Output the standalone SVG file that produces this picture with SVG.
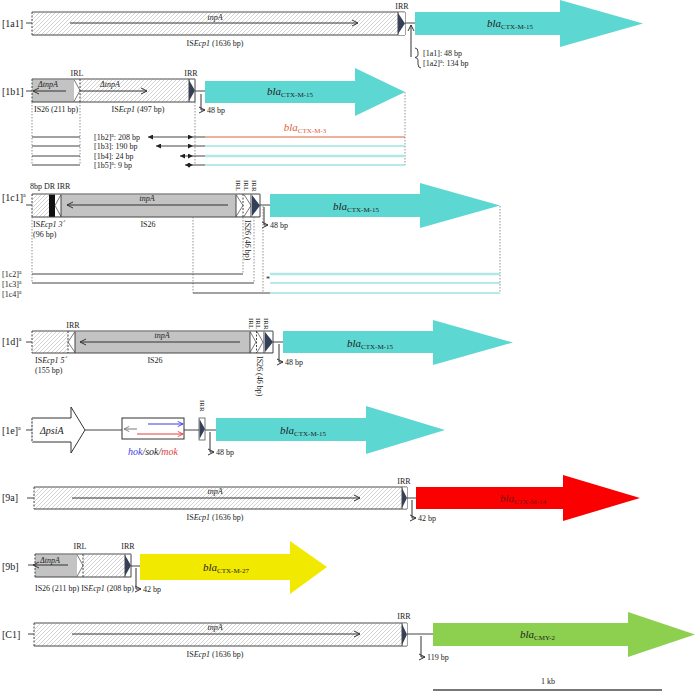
<svg xmlns="http://www.w3.org/2000/svg" width="696" height="698" viewBox="0 0 696 698">
<defs>
<pattern id="hatch" patternUnits="userSpaceOnUse" width="4" height="4">
<rect width="4" height="4" fill="#fff"/>
<path d="M-1,1 l2,-2 M0,4 l4,-4 M3,5 l2,-2" stroke="#b5b5b5" stroke-width="0.6"/>
</pattern>
<marker id="oa" viewBox="0 0 8 8" refX="7" refY="4" markerWidth="8" markerHeight="8" orient="auto" markerUnits="userSpaceOnUse"><path d="M1,1 L7,4 L1,7" fill="none" stroke="#333" stroke-width="1"/></marker>
<marker id="oab" viewBox="0 0 8 8" refX="7" refY="4" markerWidth="7" markerHeight="7" orient="auto" markerUnits="userSpaceOnUse"><path d="M1,1 L7,4 L1,7" fill="none" stroke="#3a3ae6" stroke-width="1"/></marker>
<marker id="oar" viewBox="0 0 8 8" refX="7" refY="4" markerWidth="7" markerHeight="7" orient="auto" markerUnits="userSpaceOnUse"><path d="M1,1 L7,4 L1,7" fill="none" stroke="#e63a3a" stroke-width="1"/></marker>
<marker id="oag" viewBox="0 0 8 8" refX="7" refY="4" markerWidth="7" markerHeight="7" orient="auto" markerUnits="userSpaceOnUse"><path d="M1,1 L7,4 L1,7" fill="none" stroke="#777" stroke-width="1"/></marker>
<marker id="fa" viewBox="0 0 6 6" refX="6" refY="3" markerWidth="5" markerHeight="5" orient="auto-start-reverse" markerUnits="userSpaceOnUse"><path d="M0,0 L6,3 L0,6z" fill="#222"/></marker>
</defs>
<style>
text{font-family:"Liberation Serif","Times New Roman",serif;fill:#222}
.l{font-size:10px}
.s{font-size:8px}
.xs{font-size:7px}
.i{font-style:italic}
.g{font-size:11px}
.edge{fill:none;stroke:#444;stroke-width:1}
.top{fill:none;stroke:#888;stroke-width:1.6}
.dl{fill:none;stroke:#444;stroke-width:1;stroke-dasharray:2,1.5}
.dv{fill:none;stroke:#777;stroke-width:0.8;stroke-dasharray:1.5,1.5}
.ln{fill:none;stroke:#444;stroke-width:1}
.ar{fill:none;stroke:#333;stroke-width:1}
.gr{fill:#c3c3c3}
.tri{fill:#34405a}
.chev{fill:none;stroke:#555;stroke-width:0.8}
.cy{fill:#5cd7d2}
.cyl{stroke:#6fd6d2;stroke-width:1;fill:none}
.cyt{stroke:#aee9e6;stroke-width:2.5;fill:none}
</style>

<g id="row-1a1">
<text class="l" x="2" y="27">[1a1]</text>
<rect x="32" y="12" width="373" height="23" fill="url(#hatch)"/>
<path class="edge" d="M32,35 H405 V12"/>
<path class="top" d="M32,12 H405"/>
<path class="dl" d="M32,12 V35"/>
<rect x="398" y="12.5" width="7" height="22.5" fill="#fff"/>
<polygon class="tri" points="398,13 405,23.5 398,34"/>
<path class="edge" d="M398,12 V35"/>
<line class="ar" x1="70" y1="23" x2="358" y2="23" marker-end="url(#oa)"/>
<text class="s i" x="215" y="20" text-anchor="middle">tnpA</text>
<text class="s" x="402" y="9" text-anchor="middle">IRR</text>
<text class="s" x="215" y="46" text-anchor="middle">IS<tspan class="i">Ecp1</tspan> (1636 bp)</text>
<polygon class="cy" points="415,12 560,12 560,0 643,23.5 560,47 560,35 415,35"/>
<text class="g" x="487" y="27"><tspan class="i">bla</tspan><tspan font-size="7" dy="2">CTX-M-15</tspan></text>
<path class="ln" d="M415,48 Q418,48 418,52 V55 Q418,57 415,57.5 Q418,58 418,60 V64 Q418,68 421,68"/>
<text class="s" x="423" y="56">[1a1]: 48 bp</text>
<text class="s" x="423" y="66">[1a2]<tspan font-size="5.5" dy="-3">a</tspan><tspan dy="3">: 134 bp</tspan></text>
</g>

<g id="row-1b1">
<text class="l" x="2" y="95">[1b1]</text>
<rect class="gr" x="32" y="79" width="48" height="23"/>
<rect x="80" y="79" width="115" height="23" fill="url(#hatch)"/>
<rect x="74" y="79.5" width="6" height="22" fill="#fff"/>
<polyline class="chev" points="74,79.5 80,90.5 74,101.5"/>
<rect x="189" y="79.5" width="6" height="22" fill="#fff"/>
<polygon class="tri" points="189,80 195,90.5 189,101"/>
<path class="edge" d="M32,102 H195 V79"/>
<path class="top" d="M32,79 H195"/>
<path class="dl" d="M32,79 V102 M80,79 V102"/>
<path class="edge" d="M189,79 V102"/>
<line class="ar" x1="66" y1="91" x2="33" y2="91" marker-end="url(#oa)"/>
<line class="ar" x1="80" y1="91" x2="147" y2="91" marker-end="url(#oa)"/>
<text class="s i" x="38" y="87">ΔtnpA</text>
<text class="s i" x="100" y="87">ΔtnpA</text>
<text class="s" x="77" y="76" text-anchor="middle">IRL</text>
<text class="s" x="191" y="76" text-anchor="middle">IRR</text>
<text class="s" x="34" y="112">IS26 (211 bp)</text>
<text class="s" x="138" y="112" text-anchor="middle">IS<tspan class="i">Ecp1</tspan> (497 bp)</text>
<polygon class="cy" points="205,81 355,81 355,68 405,92 355,116 355,103 205,103"/>
<text class="g" x="267" y="95"><tspan class="i">bla</tspan><tspan font-size="7" dy="2">CTX-M-15</tspan></text>
<text class="g" x="305" y="131" text-anchor="middle" style="fill:#e0603c"><tspan class="i" style="fill:#e0603c">bla</tspan><tspan font-size="7" dy="2" style="fill:#e0603c">CTX-M-3</tspan></text>
<text class="s" x="94" y="140">[1b2]<tspan font-size="5.5" dy="-3">a</tspan><tspan dy="3">: 208 bp</tspan></text>
<text class="s" x="94" y="149">[1b3]: 190 bp</text>
<text class="s" x="94" y="159">[1b4]: 24 bp</text>
<text class="s" x="94" y="168">[1b5]<tspan font-size="5.5" dy="-3">a</tspan><tspan dy="3">: 9 bp</tspan></text>
</g>

<g id="row-1c1">
<text class="l" x="2" y="201">[1c1]<tspan font-size="6" dy="-4">a</tspan></text>
<rect x="32" y="194" width="17" height="23" fill="url(#hatch)"/>
<rect x="49" y="194" width="6" height="23" fill="#111"/>
<rect class="gr" x="55" y="194" width="205" height="23"/>
<rect x="55" y="194.5" width="6" height="22" fill="#fff"/>
<polyline class="chev" points="61,194.5 55,205.5 61,216.5"/>
<rect x="236" y="194.5" width="15" height="22" fill="#fff"/>
<polyline class="chev" points="236,194.5 243,205.5 236,216.5"/>
<polyline class="chev" points="244,194.5 251,205.5 244,216.5"/>
<rect x="251" y="194.5" width="9" height="22" fill="#fff"/>
<polygon class="tri" points="252,195 260,205.5 252,216"/>
<path class="edge" d="M32,217 H260 V194 M61,194 V217 M236,194 V217 M251,194 V217"/>
<path class="top" d="M32,194 H260"/>
<path class="dl" d="M32,194 V217 M243,194 V217"/>
<line class="ar" x1="228" y1="205" x2="67" y2="205" marker-end="url(#oa)"/>
<text class="s i" x="147" y="201" text-anchor="middle">tnpA</text>
<text class="s" x="30" y="189">8bp DR IRR</text>
<text class="s" x="33" y="227">IS<tspan class="i">Ecp1 3´</tspan></text>
<text class="s" x="33" y="237">(96 bp)</text>
<text class="s" x="148" y="227" text-anchor="middle">IS26</text>
<text class="xs" transform="translate(236,180) rotate(90)">IRL</text>
<text class="xs" transform="translate(244,180) rotate(90)">IRL</text>
<text class="xs" transform="translate(252,180) rotate(90)">IRR</text>
<text class="s" transform="translate(244.5,220) rotate(90)">IS26 (46 bp)</text>
<polygon class="cy" points="270,194 420,194 420,183 500,205.5 420,228 420,217 270,217"/>
<text class="g" x="333" y="210"><tspan class="i">bla</tspan><tspan font-size="7" dy="2">CTX-M-15</tspan></text>
<text class="s" x="2" y="277">[1c2]<tspan font-size="5.5" dy="-3">a</tspan></text>
<text class="s" x="2" y="287">[1c3]<tspan font-size="5.5" dy="-3">a</tspan></text>
<text class="s" x="2" y="297">[1c4]<tspan font-size="5.5" dy="-3">a</tspan></text>
<text class="s" x="266" y="282">*</text>
</g>

<g id="row-1d">
<text class="l" x="2" y="345">[1d]<tspan font-size="6" dy="-4">a</tspan></text>
<rect x="32" y="331" width="36" height="22" fill="url(#hatch)"/>
<rect class="gr" x="68" y="331" width="205" height="22"/>
<rect x="68" y="331.5" width="7" height="21" fill="#fff"/>
<polyline class="chev" points="75,331.5 68,342 75,352.5"/>
<rect x="250" y="331.5" width="23" height="21" fill="#fff"/>
<polyline class="chev" points="250,331.5 256,342 250,352.5"/>
<polyline class="chev" points="257,331.5 263,342 257,352.5"/>
<polygon class="tri" points="265,332 273,342 265,352"/>
<path class="edge" d="M32,353 H273 V331 M75,331 V353 M250,331 V353 M264,331 V353"/>
<path class="top" d="M32,331 H273"/>
<path class="dl" d="M32,331 V353 M68,331 V353 M256.5,331 V353"/>
<line class="ar" x1="240" y1="342" x2="80" y2="342" marker-end="url(#oa)"/>
<text class="s i" x="162" y="338" text-anchor="middle">tnpA</text>
<text class="s" x="73" y="328" text-anchor="middle">IRR</text>
<text class="xs" transform="translate(248.5,318) rotate(90)">IRL</text>
<text class="xs" transform="translate(256,318) rotate(90)">IRL</text>
<text class="xs" transform="translate(264,318) rotate(90)">IRR</text>
<text class="s" transform="translate(257,356) rotate(90)">IS26 (46 bp)</text>
<text class="s" x="35" y="363">IS<tspan class="i">Ecp1 5´</tspan></text>
<text class="s" x="35" y="373">(155 bp)</text>
<text class="s" x="155" y="363" text-anchor="middle">IS26</text>
<polygon class="cy" points="283,331 433,331 433,320 513,342.5 433,365 433,353 283,353"/>
<text class="g" x="347" y="347"><tspan class="i">bla</tspan><tspan font-size="7" dy="2">CTX-M-15</tspan></text>
</g>

<g id="row-1e">
<text class="l" x="2" y="434">[1e]<tspan font-size="6" dy="-4">a</tspan></text>
<polygon points="32,418 71,418 71,407 85,430 71,453 71,442 32,442" fill="#fff" stroke="#333" stroke-width="1"/>
<path d="M32,418 V442" stroke="#fff" stroke-width="1.5"/>
<path class="dl" d="M32,418 V442"/>
<text class="l i" x="40" y="434">ΔpsiA</text>
<rect x="122" y="418" width="62" height="21" fill="#fff" stroke="#333" stroke-width="1"/>
<line x1="137" y1="429" x2="124" y2="429" stroke="#777" stroke-width="1" marker-end="url(#oag)"/>
<line x1="148" y1="424" x2="183" y2="424" stroke="#3a3ae6" stroke-width="1" marker-end="url(#oab)"/>
<line x1="137" y1="434" x2="183" y2="434" stroke="#e63a3a" stroke-width="1" marker-end="url(#oar)"/>
<text class="l i" x="153" y="455" text-anchor="middle"><tspan style="fill:#3a3ae6">hok</tspan>/sok/<tspan style="fill:#e63a3a">mok</tspan></text>
<rect x="199" y="418" width="6" height="22" fill="#fff" stroke="#555" stroke-width="0.8"/>
<polygon class="tri" points="199.5,419 205,429 199.5,439"/>
<text class="xs" transform="translate(199.5,400) rotate(90)">IRR</text>
<polygon class="cy" points="216,418 366,418 366,406 445,430 366,454 366,441 216,441"/>
<text class="g" x="280" y="434"><tspan class="i">bla</tspan><tspan font-size="7" dy="2">CTX-M-15</tspan></text>
</g>

<g id="row-9a">
<text class="l" x="2" y="501">[9a]</text>
<rect x="34" y="487" width="373" height="22" fill="url(#hatch)"/>
<path class="edge" d="M34,509 H407 V487"/>
<path class="top" d="M34,487 H407"/>
<path class="dl" d="M34,487 V509"/>
<rect x="402" y="487.5" width="5" height="21" fill="#fff"/>
<polygon class="tri" points="402,488 407,498 402,508"/>
<path class="edge" d="M402,487 V509"/>
<line class="ar" x1="72" y1="498" x2="360" y2="498" marker-end="url(#oa)"/>
<text class="s i" x="215" y="494" text-anchor="middle">tnpA</text>
<text class="s" x="404" y="484" text-anchor="middle">IRR</text>
<text class="s" x="215" y="520" text-anchor="middle">IS<tspan class="i">Ecp1</tspan> (1636 bp)</text>
<polygon points="416,487 563,487 563,475 640,498 563,521 563,509 416,509" fill="#fa0000"/>
<text class="g" x="500" y="502" style="fill:#7a1010"><tspan class="i" style="fill:#7a1010">bla</tspan><tspan font-size="7" dy="2" style="fill:#7a1010">CTX-M-14</tspan></text>
</g>

<g id="row-9b">
<text class="l" x="2" y="570">[9b]</text>
<rect class="gr" x="35" y="554" width="43" height="23"/>
<rect x="83" y="554" width="48" height="23" fill="url(#hatch)"/>
<rect x="77" y="554.5" width="6" height="22" fill="#fff"/>
<polyline class="chev" points="77,554.5 83,565.5 77,576.5"/>
<rect x="125" y="554.5" width="6" height="22" fill="#fff"/>
<polygon class="tri" points="125,555 131,565.5 125,576"/>
<path class="edge" d="M35,577 H131 V554 M125,554 V577"/>
<path class="top" d="M35,554 H131"/>
<path class="dl" d="M35,554 V577 M83,554 V577"/>
<line class="ar" x1="68" y1="565" x2="33" y2="565" marker-end="url(#oa)"/>
<text class="s i" x="40" y="563">ΔtnpA</text>
<text class="s" x="80" y="549" text-anchor="middle">IRL</text>
<text class="s" x="128" y="549" text-anchor="middle">IRR</text>
<text class="s" x="35" y="591">IS26 (211 bp) IS<tspan class="i">Ecp1</tspan> (208 bp)</text>
<polygon points="140,554 290,554 290,541 327,567 290,594 290,580 140,580" fill="#f1e900"/>
<text class="g" x="203" y="571"><tspan class="i">bla</tspan><tspan font-size="7" dy="2">CTX-M-27</tspan></text>
</g>

<g id="row-C1">
<text class="l" x="2" y="638">[C1]</text>
<rect x="34" y="623" width="373" height="23" fill="url(#hatch)"/>
<path class="edge" d="M34,646 H407 V623"/>
<path class="top" d="M34,623 H407"/>
<path class="dl" d="M34,623 V646"/>
<rect x="402" y="623.5" width="5" height="22" fill="#fff"/>
<polygon class="tri" points="402,624 407,634.5 402,645"/>
<path class="edge" d="M402,623 V646"/>
<line class="ar" x1="72" y1="634" x2="360" y2="634" marker-end="url(#oa)"/>
<text class="s i" x="215" y="630" text-anchor="middle">tnpA</text>
<text class="s" x="404" y="619" text-anchor="middle">IRR</text>
<text class="s" x="215" y="657" text-anchor="middle">IS<tspan class="i">Ecp1</tspan> (1636 bp)</text>
<polygon points="433,623 628,623 628,612 695,634.5 628,657 628,646 433,646" fill="#8dd04f"/>
<text class="g" x="520" y="638"><tspan class="i">bla</tspan><tspan font-size="7" dy="2">CMY-2</tspan></text>
</g>

<g id="scale">
<line x1="433" y1="690" x2="662" y2="690" stroke="#777" stroke-width="2"/>
<text class="s" x="548" y="684" text-anchor="middle">1 kb</text>
</g>

<g id="connectors">
<!-- left stubs -->
<path class="ln" d="M26,23 H32 M26,91 H32 M26,205 H32 M26,342 H32 M26,430 H32 M27,498 H34 M28,565 H35 M28,634 H34"/>
<!-- IS to gene links -->
<path class="ln" d="M405,23 H415 M195,91 H205 M260,205 H270 M273,342 H283 M85,430 H122 M184,430 H199 M205,430 H216 M407,498 H416 M131,566 H140 M407,634 H433"/>
<!-- bp arrows -->
<path class="ar" d="M411,57 V25" marker-end="url(#oa)"/>
<path class="ar" d="M201,110 V94 M201,110 H205" marker-end="url(#oa)"/>
<text class="s" x="207" y="113">48 bp</text>
<path class="ar" d="M264,225 V207 M264,225 H268" marker-end="url(#oa)"/>
<text class="s" x="270" y="228">48 bp</text>
<path class="ar" d="M279,362 V344 M279,362 H283" marker-end="url(#oa)"/>
<text class="s" x="285" y="365">48 bp</text>
<path class="ar" d="M210,452 V432 M210,452 H214" marker-end="url(#oa)"/>
<text class="s" x="216" y="455">48 bp</text>
<path class="ar" d="M412,518 V500 M412,518 H416" marker-end="url(#oa)"/>
<text class="s" x="418" y="521">42 bp</text>
<path class="ar" d="M136,589 V568 M136,589 H141" marker-end="url(#oa)"/>
<text class="s" x="143" y="592">42 bp</text>
<path class="ar" d="M421,657 V636 M421,657 H425" marker-end="url(#oa)"/>
<text class="s" x="427" y="660">119 bp</text>
<!-- 1b dashed verticals and deletion lines -->
<path class="dv" d="M32,102 V165 M80,102 V165 M195,102 V165 M405,92 V165"/>
<path class="ln" d="M32,137 H80 M32,146 H80 M32,156 H80 M32,165 H80"/>
<line class="ln" x1="148" y1="137" x2="193" y2="137" marker-start="url(#fa)" marker-end="url(#fa)"/>
<line class="ln" x1="156" y1="146" x2="193" y2="146" marker-start="url(#fa)" marker-end="url(#fa)"/>
<line class="ln" x1="180" y1="156" x2="193" y2="156" marker-start="url(#fa)" marker-end="url(#fa)"/>
<line class="ln" x1="185" y1="165" x2="193" y2="165" marker-start="url(#fa)" marker-end="url(#fa)"/>
<path class="ln" d="M193,137 H205 M193,146 H205 M193,156 H205 M193,165 H205"/>
<path d="M205,137 H405" stroke="#e0603c" stroke-width="1.2" fill="none"/>
<path class="cyl" d="M205,146 H405 M205,165 H405"/>
<path class="cyt" d="M205,156 H405"/>
<!-- 1c dashed verticals and deletion lines -->
<path class="dv" d="M32,217 V283 M193,217 V293 M243,217 V274 M254,217 V283 M263,206 V293 M500,206 V293"/>
<path class="ln" d="M32,274 H243 M32,283 H254 M193,293 H270"/>
<path class="cyt" d="M270,274 H500"/>
<path class="cyl" d="M270,283 H500 M270,293 H500"/>
</g>
</svg>
